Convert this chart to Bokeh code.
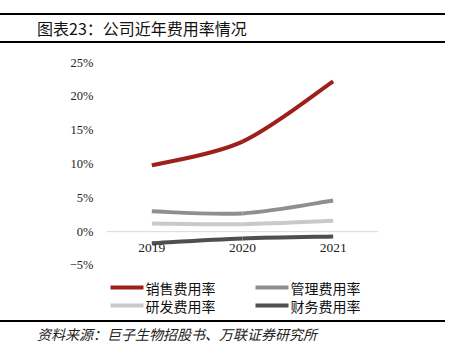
from bokeh.plotting import figure
from bokeh.models import Range1d, FixedTicker, Label, BoxAnnotation, Span, ColumnDataSource, Div
from bokeh.layouts import column
from bokeh.core.properties import value
from bokeh.embed import file_html
from bokeh.resources import INLINE

years = ["2019", "2020", "2021"]
series_names = ["销售费用率", "管理费用率", "研发费用率", "财务费用率"]
sales = [9.8, 13.3, 22.2]
admin = [3.0, 2.7, 4.6]
rnd = [1.2, 1.1, 1.6]
finance = [-1.7, -1.0, -0.7]
colors = ["#9e1f1c", "#8f8f8f", "#c9c9c9", "#4f4f4f"]
y_ticks = [-5, 0, 5, 10, 15, 20, 25]

W = 453
FIG_H = 277
p = figure(width=W, height=FIG_H, output_backend="svg", toolbar_location=None,
           x_range=Range1d(-0.5, 2.5), y_range=Range1d(-12.54, 25),
           min_border_left=106, min_border_right=75, min_border_top=19, min_border_bottom=4)
p.outline_line_color = None
p.xgrid.visible = False
p.ygrid.visible = False
p.xaxis.visible = False
p.border_fill_color = "white"

ya = p.yaxis[0]
ya.ticker = FixedTicker(ticks=y_ticks)
ya.major_label_overrides = {t: ("−5%" if t < 0 else f"{t}%") for t in y_ticks}
ya.axis_line_color = None
ya.major_tick_line_color = None
ya.minor_tick_line_color = None
ya.major_label_text_font = "Liberation Serif"
ya.major_label_text_font_size = "12.5px"
ya.major_label_text_color = "#222222"
ya.major_label_standoff = 7

p.add_layout(Span(location=0, dimension="width", line_color="#d9d9d9", line_width=1))

xs = [0, 1, 2]

def smooth(vals):
    pts = list(zip(xs, vals))
    ext = [pts[0]] + pts + [pts[-1]]
    d = dict(x0=[], y0=[], x1=[], y1=[], cx0=[], cy0=[], cx1=[], cy1=[])
    for i in range(1, len(ext) - 2):
        p0, p1, p2, p3 = ext[i - 1], ext[i], ext[i + 1], ext[i + 2]
        d["x0"].append(p1[0]); d["y0"].append(p1[1])
        d["x1"].append(p2[0]); d["y1"].append(p2[1])
        d["cx0"].append(p1[0] + (p2[0] - p0[0]) / 6); d["cy0"].append(p1[1] + (p2[1] - p0[1]) / 6)
        d["cx1"].append(p2[0] - (p3[0] - p1[0]) / 6); d["cy1"].append(p2[1] - (p3[1] - p1[1]) / 6)
    return ColumnDataSource(d)

for vals, c in zip([sales, admin, rnd, finance], colors):
    p.bezier(x0="x0", y0="y0", x1="x1", y1="y1", cx0="cx0", cy0="cy0", cx1="cx1", cy1="cy1",
             source=smooth(vals), line_color=c, line_width=4)

p.text(x=xs, y=[0] * 3, text=years, text_font=value("Liberation Serif"), text_font_size="13.5px",
       text_align="center", text_baseline="middle", y_offset=16, text_color="#222222")

# legend (screen units relative to the plot frame: x from frame left, y from frame bottom)
leg_pos = [(4, 29), (149, 29), (4, 11), (149, 11)]
for name, c, (lx, ly) in zip(series_names, colors, leg_pos):
    p.add_layout(BoxAnnotation(left=lx, right=lx + 33, top=ly + 2, bottom=ly - 2,
                               left_units="screen", right_units="screen", top_units="screen", bottom_units="screen",
                               fill_color=c, fill_alpha=1, line_color=None, level="overlay"))
    p.add_layout(Label(x=lx + 35, y=ly, x_units="screen", y_units="screen", text=name,
                       text_font="Noto Sans CJK SC", text_font_size="14px", text_baseline="middle",
                       text_color="#111111"))

title_div = Div(width=W, height=43, margin=0, text=(
    '<div style="position:relative;width:453px;height:43px;background:white;">'
    '<div style="position:absolute;left:0;top:13px;width:445px;height:0;border-top:2px solid #000;"></div>'
    '<div style="position:absolute;left:37px;top:18px;font-family:\'Noto Sans CJK SC\';font-size:16px;'
    'line-height:20px;color:#111;white-space:nowrap;">图表23：公司近年费用率情况</div>'
    '<div style="position:absolute;left:0;top:41px;width:445px;height:0;border-top:2px solid #000;"></div>'
    '</div>'))

source_div = Div(width=W, height=37, margin=0, text=(
    '<div style="position:relative;width:453px;height:37px;background:white;">'
    '<div style="position:absolute;left:0;top:0px;width:445px;height:0;border-top:2px solid #000;"></div>'
    '<div style="position:absolute;left:37px;top:4px;font-family:\'Noto Sans CJK SC\';font-size:14px;'
    'font-style:italic;line-height:20px;color:#222;white-space:nowrap;">资料来源：巨子生物招股书、万联证券研究所</div>'
    '</div>'))

layout = column(title_div, p, source_div, spacing=0)
open("out.html", "w").write(file_html(layout, INLINE))
